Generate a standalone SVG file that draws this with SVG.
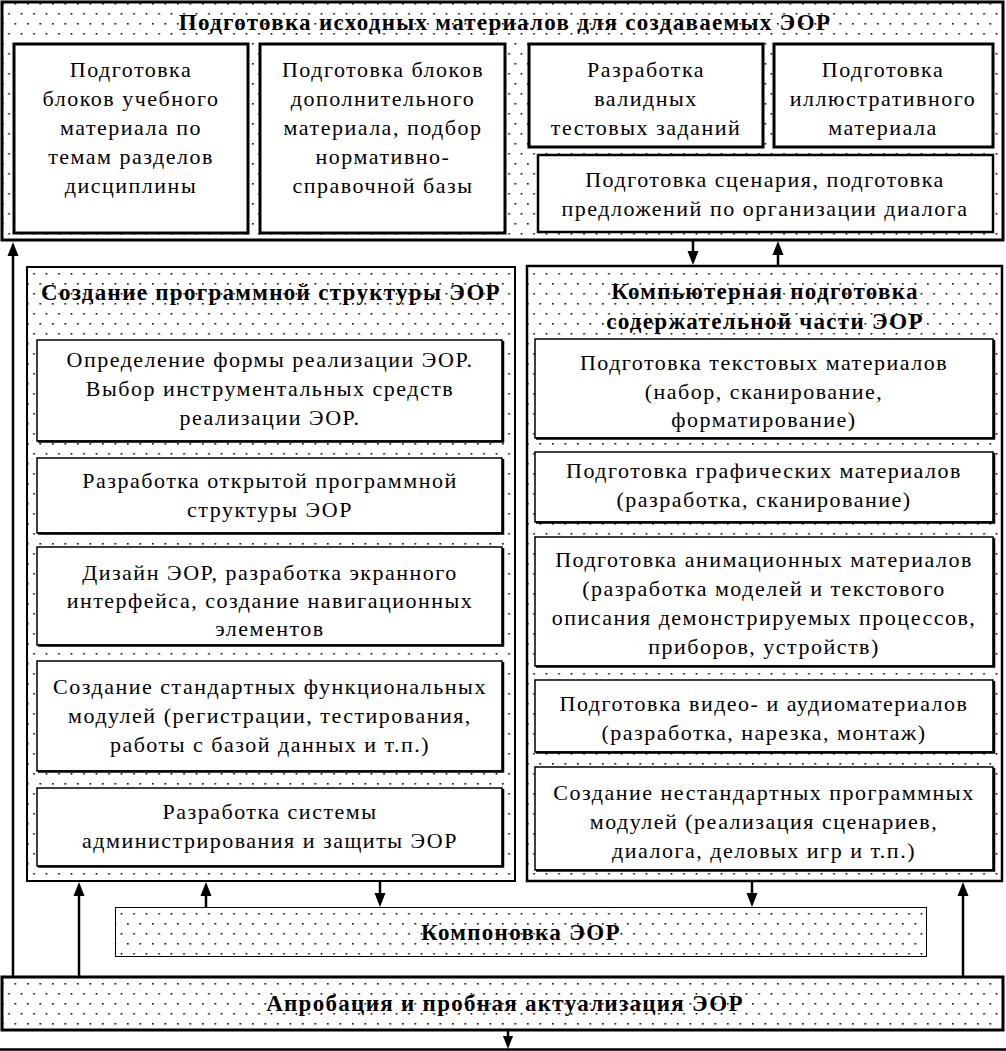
<svg xmlns="http://www.w3.org/2000/svg" width="1006" height="1051" viewBox="0 0 1006 1051">
<defs>
<pattern id="dots" patternUnits="userSpaceOnUse" width="12.5" height="20">
<rect x="2" y="3" width="1.6" height="1.6" fill="#000"/>
<rect x="8.25" y="13" width="1.6" height="1.6" fill="#000"/>
</pattern>
<style>
.bg{fill:#fff}
.cont{fill:url(#dots);stroke:#000}
.box{fill:#fff;stroke:#000}
.t{font-family:"Liberation Serif","Times New Roman",serif;font-size:22px;letter-spacing:1.5px;fill:#000;text-anchor:middle}
.h{font-family:"Liberation Serif","Times New Roman",serif;font-size:23px;font-weight:bold;letter-spacing:1.3px;fill:#000;text-anchor:middle}
.ln{stroke:#000;stroke-width:2.5;fill:none}
.ah{fill:#000}
</style>
</defs>
<rect class="bg" x="0" y="0" width="1006" height="1051"/>

<g id="top-block">
<rect class="cont" x="2" y="2" width="1001" height="238" stroke-width="3"/>
<text class="h" x="505" y="30">Подготовка исходных материалов для создаваемых ЭОР</text>
</g>
<g id="top-1">
<rect class="box" x="14" y="44" width="234" height="189" stroke-width="3"/>
<text class="t" x="131" y="77">Подготовка</text>
<text class="t" x="131" y="106">блоков учебного</text>
<text class="t" x="131" y="135">материала по</text>
<text class="t" x="131" y="164">темам разделов</text>
<text class="t" x="131" y="193">дисциплины</text>
</g>
<g id="top-2">
<rect class="box" x="260" y="44" width="245" height="189" stroke-width="3"/>
<text class="t" x="383" y="77">Подготовка блоков</text>
<text class="t" x="383" y="106">дополнительного</text>
<text class="t" x="383" y="135">материала, подбор</text>
<text class="t" x="383" y="164">нормативно-</text>
<text class="t" x="383" y="193">справочной базы</text>
</g>
<g id="top-3">
<rect class="box" x="529" y="44" width="234" height="103" stroke-width="3"/>
<text class="t" x="646" y="77">Разработка</text>
<text class="t" x="646" y="106">валидных</text>
<text class="t" x="646" y="135">тестовых заданий</text>
</g>
<g id="top-4">
<rect class="box" x="774" y="44" width="219" height="103" stroke-width="3"/>
<text class="t" x="883" y="77">Подготовка</text>
<text class="t" x="883" y="106">иллюстративного</text>
<text class="t" x="883" y="135">материала</text>
</g>
<g id="top-5">
<rect class="box" x="538" y="155" width="455" height="77" stroke-width="2.5"/>
<text class="t" x="765" y="187">Подготовка сценария, подготовка</text>
<text class="t" x="765" y="216">предложений по организации диалога</text>
</g>

<g id="left-col">
<rect class="cont" x="27" y="267" width="488" height="614" stroke-width="2"/>
<text class="h" x="271" y="300">Создание программной структуры ЭОР</text>
</g>
<g id="left-1">
<rect class="box" x="37" y="340" width="465" height="101" stroke-width="1.5"/>
<path class="ln" d="M38,441.5 H503 V341" stroke-width="1.5"/>
<text class="t" x="270" y="367">Определение формы реализации ЭОР.</text>
<text class="t" x="270" y="396">Выбор инструментальных средств</text>
<text class="t" x="270" y="425">реализации ЭОР.</text>
</g>
<g id="left-2">
<rect class="box" x="37" y="458" width="465" height="75" stroke-width="1.5"/>
<path class="ln" d="M38,533.5 H503 V459" stroke-width="1.5"/>
<text class="t" x="270" y="488">Разработка открытой программной</text>
<text class="t" x="270" y="517">структуры ЭОР</text>
</g>
<g id="left-3">
<rect class="box" x="37" y="547" width="465" height="98" stroke-width="1.5"/>
<path class="ln" d="M38,645.5 H503 V548" stroke-width="1.5"/>
<text class="t" x="270" y="580">Дизайн ЭОР, разработка экранного</text>
<text class="t" x="270" y="608">интерфейса, создание навигационных</text>
<text class="t" x="270" y="636">элементов</text>
</g>
<g id="left-4">
<rect class="box" x="37" y="661" width="465" height="110" stroke-width="1.5"/>
<path class="ln" d="M38,771.5 H503 V662" stroke-width="1.5"/>
<text class="t" x="270" y="694">Создание стандартных функциональных</text>
<text class="t" x="270" y="723">модулей (регистрации, тестирования,</text>
<text class="t" x="270" y="752">работы с базой данных и т.п.)</text>
</g>
<g id="left-5">
<rect class="box" x="37" y="788" width="465" height="78" stroke-width="1.5"/>
<path class="ln" d="M38,866.5 H503 V789" stroke-width="1.5"/>
<text class="t" x="270" y="819">Разработка системы</text>
<text class="t" x="270" y="848">администрирования и защиты ЭОР</text>
</g>

<g id="right-col">
<rect class="cont" x="527" y="266" width="475" height="615" stroke-width="2.5"/>
<text class="h" x="765" y="299">Компьютерная подготовка</text>
<text class="h" x="765" y="329">содержательной части ЭОР</text>
</g>
<g id="right-1">
<rect class="box" x="535" y="339" width="458" height="99" stroke-width="1.5"/>
<path class="ln" d="M536,438.5 H994 V340" stroke-width="1.5"/>
<text class="t" x="764" y="370">Подготовка текстовых материалов</text>
<text class="t" x="764" y="399">(набор, сканирование,</text>
<text class="t" x="764" y="427">форматирование)</text>
</g>
<g id="right-2">
<rect class="box" x="535" y="452" width="458" height="70" stroke-width="1.5"/>
<path class="ln" d="M536,522.5 H994 V453" stroke-width="1.5"/>
<text class="t" x="764" y="478">Подготовка графических материалов</text>
<text class="t" x="764" y="507">(разработка, сканирование)</text>
</g>
<g id="right-3">
<rect class="box" x="535" y="537" width="458" height="129" stroke-width="1.5"/>
<path class="ln" d="M536,666.5 H994 V538" stroke-width="1.5"/>
<text class="t" x="764" y="567">Подготовка анимационных материалов</text>
<text class="t" x="764" y="596">(разработка моделей и текстового</text>
<text class="t" x="764" y="625">описания демонстрируемых процессов,</text>
<text class="t" x="764" y="654">приборов, устройств)</text>
</g>
<g id="right-4">
<rect class="box" x="535" y="680" width="458" height="72" stroke-width="1.5"/>
<path class="ln" d="M536,752.5 H994 V681" stroke-width="1.5"/>
<text class="t" x="764" y="711">Подготовка видео- и аудиоматериалов</text>
<text class="t" x="764" y="740">(разработка, нарезка, монтаж)</text>
</g>
<g id="right-5">
<rect class="box" x="535" y="767" width="458" height="103" stroke-width="1.5"/>
<path class="ln" d="M536,870.5 H994 V768" stroke-width="1.5"/>
<text class="t" x="764" y="800">Создание нестандартных программных</text>
<text class="t" x="764" y="829">модулей (реализация сценариев,</text>
<text class="t" x="764" y="858">диалога, деловых игр и т.п.)</text>
</g>

<g id="assembly">
<rect class="cont" x="115.5" y="907.5" width="811" height="49" stroke-width="1"/>
<text class="h" x="521" y="940">Компоновка ЭОР</text>
</g>
<g id="testing">
<rect class="cont" x="2" y="977" width="1001" height="53" stroke-width="3"/>
<text class="h" x="505" y="1011">Апробация и пробная актуализация ЭОР</text>
</g>

<g id="connectors">
<line class="ln" x1="0" y1="1049.5" x2="1006" y2="1049.5" stroke-width="2"/>
<line class="ln" x1="13" y1="977" x2="13" y2="254"/>
<polygon class="ah" points="13,242 7.5,256 18.5,256"/>
<line class="ln" x1="79" y1="977" x2="79" y2="894"/>
<polygon class="ah" points="79,882 73.5,896 84.5,896"/>
<line class="ln" x1="206" y1="907" x2="206" y2="894"/>
<polygon class="ah" points="206,882 200.5,896 211.5,896"/>
<line class="ln" x1="380" y1="882" x2="380" y2="895"/>
<polygon class="ah" points="380,907 374.5,893 385.5,893"/>
<line class="ln" x1="752" y1="882" x2="752" y2="895"/>
<polygon class="ah" points="752,907 746.5,893 757.5,893"/>
<line class="ln" x1="963" y1="977" x2="963" y2="894"/>
<polygon class="ah" points="963,882 957.5,896 968.5,896"/>
<line class="ln" x1="693" y1="241" x2="693" y2="253"/>
<polygon class="ah" points="693,265 687.5,251 698.5,251"/>
<line class="ln" x1="778" y1="265" x2="778" y2="253"/>
<polygon class="ah" points="778,241 772.5,255 783.5,255"/>
<line class="ln" x1="508" y1="1031" x2="508" y2="1038"/>
<polygon class="ah" points="508,1049 503,1036 513,1036"/>
</g>
</svg>
